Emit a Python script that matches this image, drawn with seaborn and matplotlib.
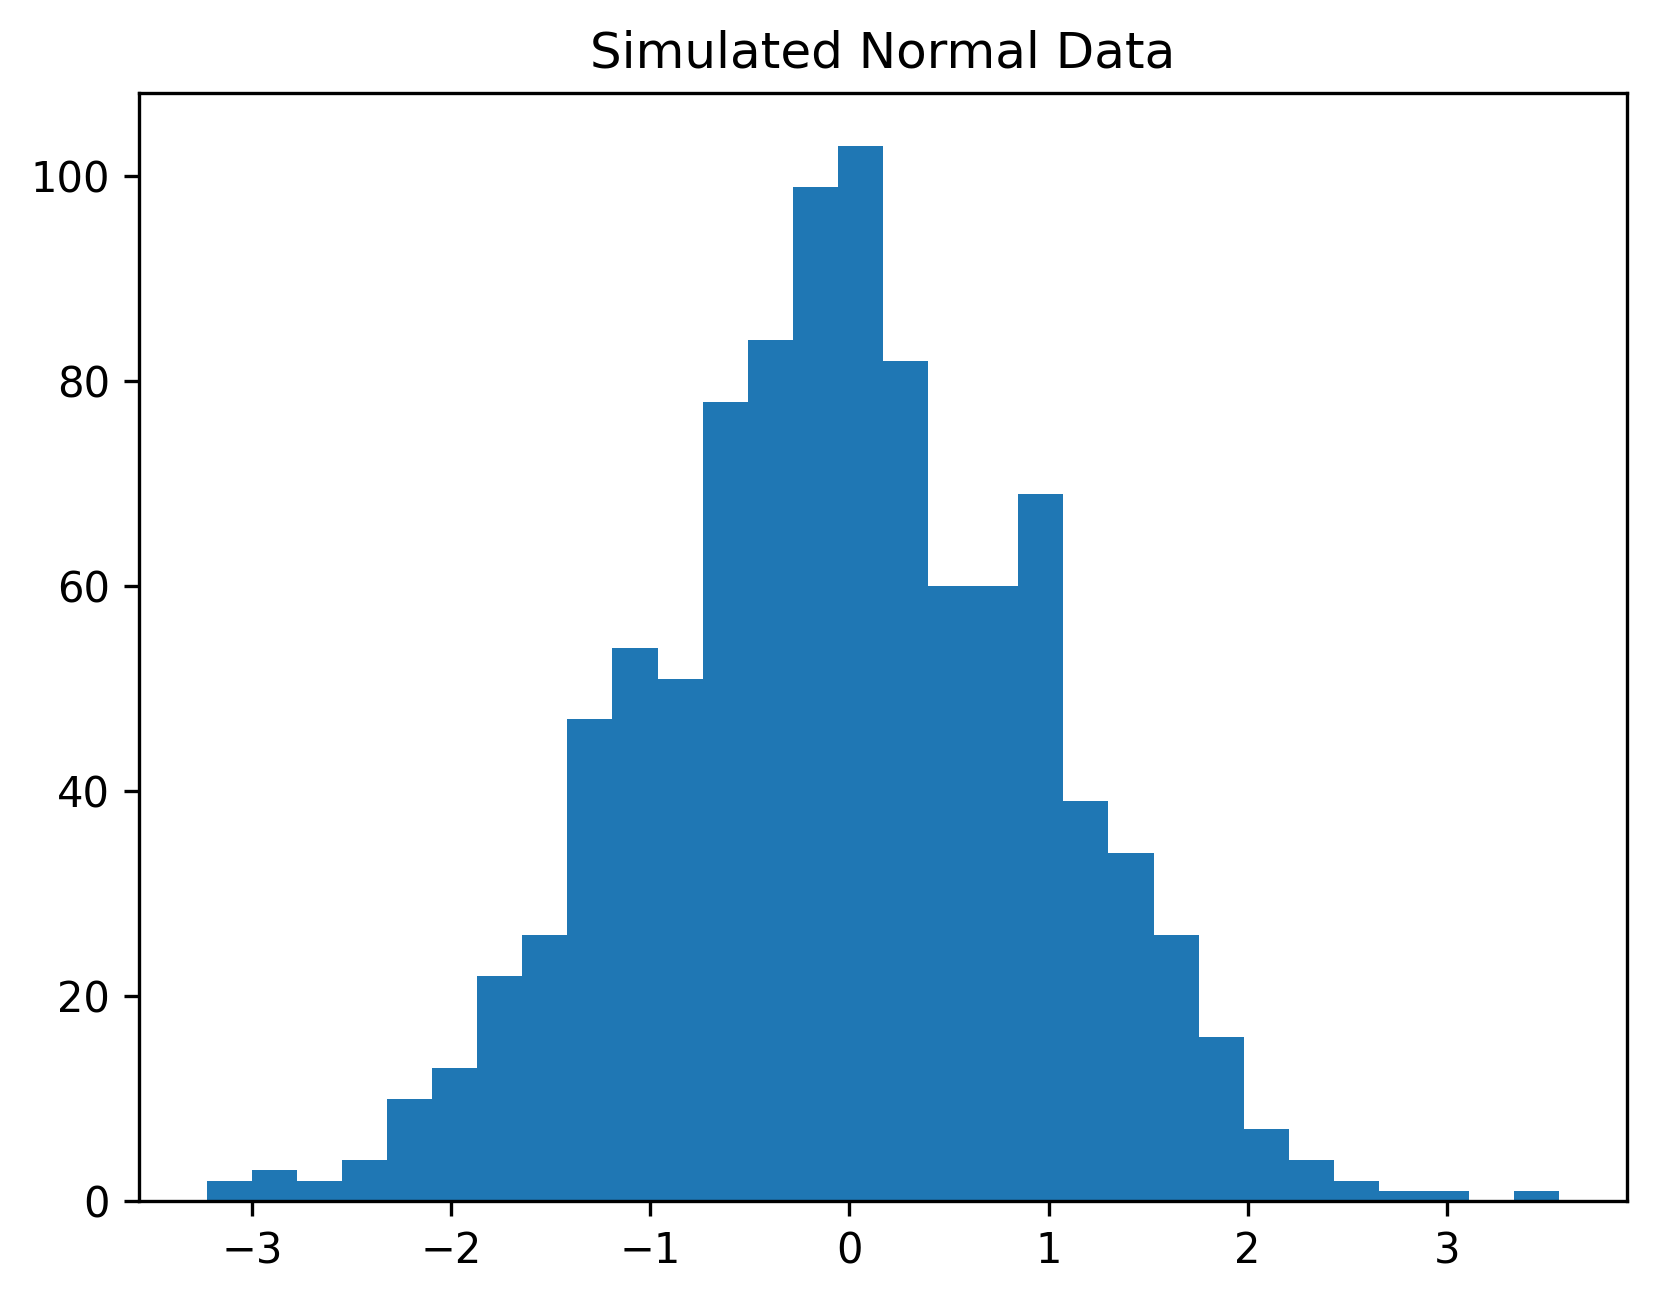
import numpy as np
import pandas as pd
import seaborn as sns
import matplotlib
matplotlib.use("Agg")
import matplotlib.pyplot as plt

# histogram: 30 equal bins between these limits
bin_min = -3.229
bin_max = 3.566
n_bins = 30
counts = [2, 3, 2, 4, 10, 13, 22, 26, 47, 54, 51, 78, 84, 99, 103,
          82, 60, 60, 69, 39, 34, 26, 16, 7, 4, 2, 1, 1, 0, 1]

edges = np.linspace(bin_min, bin_max, n_bins + 1)
df = pd.DataFrame({"value": (edges[:-1] + edges[1:]) / 2, "count": counts})

fig = plt.figure(figsize=(1656 / 300, 1300 / 300), dpi=300)
ax = fig.add_axes([139 / 1656, 99 / 1300, 1488 / 1656, 1108 / 1300])

sns.histplot(data=df, x="value", weights="count", bins=list(edges),
             color="#1f77b4", alpha=1, linewidth=0, ax=ax)
ax.set_xlabel("")
ax.set_ylabel("")
ax.set_title("Simulated Normal Data")

fig.savefig("out.png", dpi=300)
